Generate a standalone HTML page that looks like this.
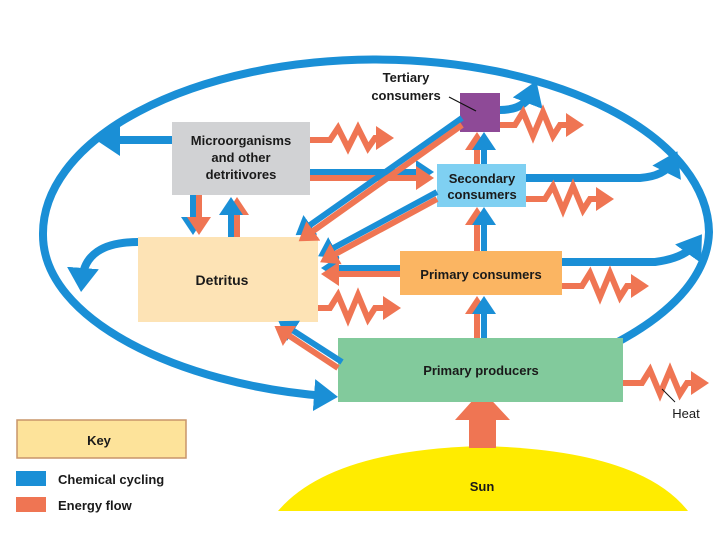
<!DOCTYPE html>
<html><head><meta charset="utf-8"><style>
html,body{margin:0;padding:0;background:#fff;}
svg{display:block;}
text{font-family:"Liberation Sans",sans-serif;font-weight:bold;fill:#1a1a1a;}
</style></head><body>
<svg width="720" height="540" viewBox="0 0 720 540" xmlns="http://www.w3.org/2000/svg">
<defs>
<marker id="bh" markerWidth="4" markerHeight="4" refX="1.5" refY="2" orient="auto" markerUnits="strokeWidth"><path d="M0,0 L3,2 L0,4 Z" fill="#1a8fd6"/></marker>
<marker id="oh" markerWidth="4" markerHeight="4" refX="1.5" refY="2" orient="auto" markerUnits="strokeWidth"><path d="M0,0 L3,2 L0,4 Z" fill="#ef7553"/></marker>
</defs>
<path d="M278,511 Q330,450 482,446 Q640,450 688,511 Z" fill="#ffec00"/>
<text x="482" y="491" font-size="13" text-anchor="middle">Sun</text>
<rect x="469" y="418" width="27" height="30" fill="#ef7553"/>
<path d="M455,420 L482,390 L510,420 Z" fill="#ef7553"/>

<path d="M612,345 C680,310 708,270 709,232 A333,174 0 0 0 43,235 C43,320 180,385 326,396" fill="none" stroke="#1a8fd6" stroke-width="8" marker-end="url(#bh)"/>

<rect x="172" y="122" width="138" height="73" fill="#d1d2d4"/>
<rect x="138" y="237" width="180" height="85" fill="#fde3b5"/>
<rect x="460" y="93" width="40" height="39" fill="#8e4a97"/>
<rect x="437" y="164" width="89" height="43" fill="#7fd0f2"/>
<rect x="400" y="251" width="162" height="44" fill="#fbb562"/>
<rect x="338" y="338" width="285" height="64" fill="#82ca9c"/>

<g stroke-width="6">
<line x1="477" y1="338" x2="477" y2="305" stroke="#ef7553" marker-end="url(#oh)"/>
<line x1="484" y1="338" x2="484" y2="305" stroke="#1a8fd6" marker-end="url(#bh)"/>
<line x1="477" y1="251" x2="477" y2="216" stroke="#ef7553" marker-end="url(#oh)"/>
<line x1="484" y1="251" x2="484" y2="216" stroke="#1a8fd6" marker-end="url(#bh)"/>
<line x1="477" y1="164" x2="477" y2="141" stroke="#ef7553" marker-end="url(#oh)"/>
<line x1="484" y1="164" x2="484" y2="141" stroke="#1a8fd6" marker-end="url(#bh)"/>
<line x1="193" y1="195" x2="193" y2="226" stroke="#1a8fd6" marker-end="url(#bh)"/>
<line x1="199" y1="195" x2="199" y2="226" stroke="#ef7553" marker-end="url(#oh)"/>
<line x1="237" y1="237" x2="237" y2="206" stroke="#ef7553" marker-end="url(#oh)"/>
<line x1="231" y1="237" x2="231" y2="206" stroke="#1a8fd6" marker-end="url(#bh)"/>
<line x1="310" y1="172" x2="425" y2="172" stroke="#1a8fd6" marker-end="url(#bh)"/>
<line x1="310" y1="178" x2="425" y2="178" stroke="#ef7553" marker-end="url(#oh)"/>
<line x1="400" y1="268" x2="330" y2="268" stroke="#1a8fd6" marker-end="url(#bh)"/>
<line x1="400" y1="274" x2="330" y2="274" stroke="#ef7553" marker-end="url(#oh)"/>
<line x1="462" y1="118" x2="303" y2="230" stroke="#1a8fd6" marker-end="url(#bh)"/>
<line x1="462" y1="125" x2="306" y2="236" stroke="#ef7553" marker-end="url(#oh)"/>
<line x1="437" y1="192" x2="326" y2="252" stroke="#1a8fd6" marker-end="url(#bh)"/>
<line x1="437" y1="199" x2="328" y2="258" stroke="#ef7553" marker-end="url(#oh)"/>
<line x1="342" y1="362" x2="286" y2="326" stroke="#1a8fd6" marker-end="url(#bh)"/>
<line x1="338" y1="368" x2="282" y2="331" stroke="#ef7553" marker-end="url(#oh)"/>
</g>

<g fill="none" stroke="#1a8fd6" stroke-width="8">
<path d="M172,140 L108,140" marker-end="url(#bh)"/>
<path d="M138,242 Q85,242 82,280" marker-end="url(#bh)"/>
<path d="M500,110 Q525,110 532,92" marker-end="url(#bh)"/>
<path d="M526,178 L640,178 Q665,176 672,162" marker-end="url(#bh)"/>
<path d="M562,262 L655,262 Q685,258 695,244" marker-end="url(#bh)"/>
</g>

<g fill="none" stroke="#ef7553" stroke-width="6" stroke-linejoin="miter">
<path d="M310,140 L330,140 L338,128 L348,148 L358,128 L368,148 L375,138 L385,138" marker-end="url(#oh)"/>
<path d="M500,125 L515,125 L523,112 L533,136 L543,112 L553,136 L560,125 L575,125" marker-end="url(#oh)"/>
<path d="M526,199 L545,199 L553,186 L563,210 L573,186 L583,210 L590,199 L605,199" marker-end="url(#oh)"/>
<path d="M562,286 L582,286 L590,273 L600,297 L610,273 L620,297 L627,286 L640,286" marker-end="url(#oh)"/>
<path d="M318,308 L330,308 L338,295 L348,319 L358,295 L368,319 L375,308 L392,308" marker-end="url(#oh)"/>
<path d="M623,383 L642,383 L650,370 L660,394 L670,370 L680,394 L687,383 L700,383" marker-end="url(#oh)"/>
</g>
<line x1="662" y1="389" x2="675" y2="402" stroke="#111" stroke-width="1"/>
<text x="686" y="418" font-size="13" text-anchor="middle" style="font-weight:normal">Heat</text>

<text font-size="13" text-anchor="middle"><tspan x="241" y="145">Microorganisms</tspan><tspan x="241" y="162">and other</tspan><tspan x="241" y="179">detritivores</tspan></text>
<text x="222" y="285" font-size="14" text-anchor="middle">Detritus</text>
<text font-size="13" text-anchor="middle"><tspan x="482" y="183">Secondary</tspan><tspan x="482" y="199">consumers</tspan></text>
<text x="481" y="279" font-size="13" text-anchor="middle">Primary consumers</text>
<text x="481" y="375" font-size="13" text-anchor="middle">Primary producers</text>
<text font-size="13" text-anchor="middle"><tspan x="406" y="82">Tertiary</tspan><tspan x="406" y="100">consumers</tspan></text>
<line x1="449" y1="97" x2="476" y2="111" stroke="#111" stroke-width="1.2"/>

<rect x="17" y="420" width="169" height="38" fill="#fde39a" stroke="#c8956a" stroke-width="1.5"/>
<text x="99" y="445" font-size="13" text-anchor="middle">Key</text>
<rect x="16" y="471" width="30" height="15" fill="#1a8fd6"/>
<text x="58" y="484" font-size="13">Chemical cycling</text>
<rect x="16" y="497" width="30" height="15" fill="#ef7553"/>
<text x="58" y="510" font-size="13">Energy flow</text>
</svg>
</body></html>
